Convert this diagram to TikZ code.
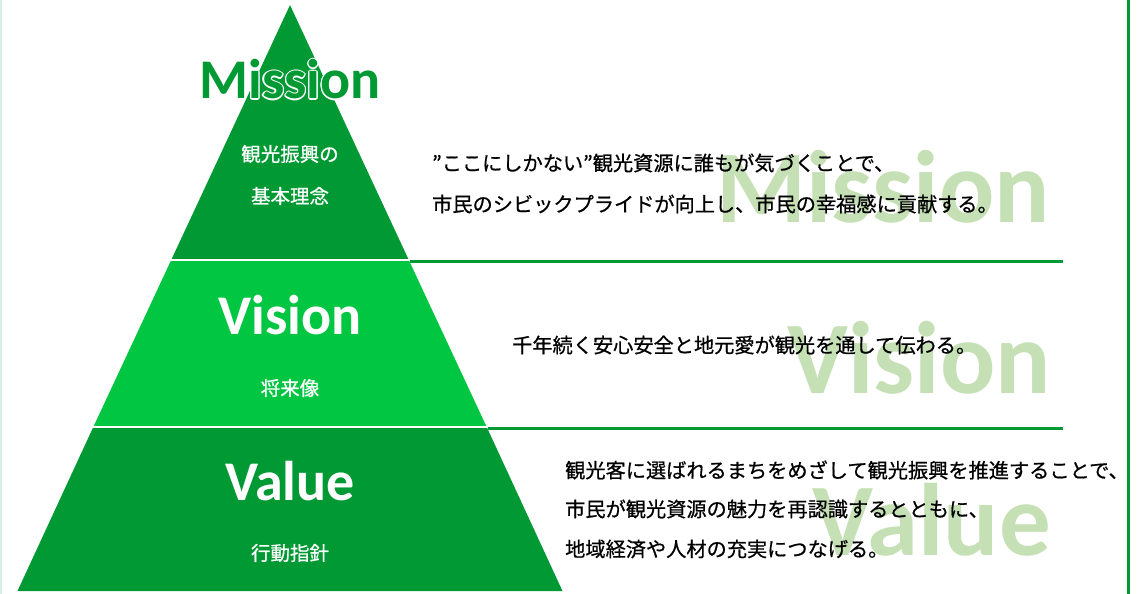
\documentclass[tikz,border=0pt]{standalone}
\usepackage{fontspec}
\setmainfont{Carlito}
\newfontfamily\jpfont{Noto Sans CJK JP}[FakeBold=0.7]
\definecolor{dkgreen}{RGB}{0,153,51}
\definecolor{ltgreen}{RGB}{0,198,66}
\definecolor{wmgreen}{RGB}{197,224,180}
\definecolor{mint}{RGB}{214,240,226}
\tikzset{
  head/.style={inner sep=0, font=\fontsize{56}{56}\selectfont\bfseries, anchor=base},
  wmark/.style={inner sep=0, text=wmgreen, font=\fontsize{103}{103}\selectfont\bfseries, anchor=base east},
  sub/.style={inner sep=0, text=white, font=\jpfont\fontsize{19.5}{19.5}\selectfont},
  body/.style={inner sep=0, text=black, anchor=west, font=\jpfont\fontsize{20.2}{20.2}\selectfont},
  rule/.style={dkgreen, line width=3pt},
  sep/.style={white, line width=1.6pt}
}
\begin{document}
\begin{tikzpicture}[x=1pt,y=-1pt]
\useasboundingbox (0,0) rectangle (1143,594);
% frame lines
\coordinate (LT) at (1,0); \coordinate (LB) at (1,594);
\draw[mint, line width=2pt] (LT) -- (LB);
\coordinate (RT) at (1128,0); \coordinate (RB) at (1128,594);
\draw[rule] (RT) -- (RB);
% pyramid
\coordinate (A) at (290,5);
\coordinate (L1) at (171.2,260); \coordinate (R1) at (408.8,260);
\coordinate (L2) at (93.3,427);  \coordinate (R2) at (486.7,427);
\coordinate (L3) at (17.5,591);  \coordinate (R3) at (562.5,591);
\fill[dkgreen] (A) -- (R1) -- (L1) -- cycle;
\fill[ltgreen] (L1) -- (R1) -- (R2) -- (L2) -- cycle;
\fill[dkgreen] (L2) -- (R2) -- (R3) -- (L3) -- cycle;
\draw[sep] (L1) -- (R1);
\draw[sep] (L2) -- (R2);
% horizontal rules
\coordinate (H1a) at (410,261.5); \coordinate (H1b) at (1063,261.5);
\coordinate (H2a) at (488,428.5); \coordinate (H2b) at (1063,428.5);
\draw[rule] (H1a) -- (H1b);
\draw[rule] (H2a) -- (H2b);
% watermarks
\node[wmark] (wm1) at (1050,222) {Mission};
\node[wmark] (wm2) at (1051,393) {Vision};
\node[wmark] (wm3) at (1051,555) {Value};
% Mission heading with white outline
\foreach \a in {0,30,...,330}{
  \node[head, text=white] at ([shift={(\a:1.1)}]290,99) {Mission};
}
\node[head, text=dkgreen] (h1) at (290,99) {Mission};
\node[head, text=white] (h2) at (290,334) {Vision};
\node[head, text=white] (h3) at (290,500) {Value};
% pyramid subtitles
\node[sub] (s1a) at (290,154) {観光振興の};
\node[sub] (s1b) at (290,196) {基本理念};
\node[sub] (s2) at (290,388) {将来像};
\node[sub] (s3) at (290,553) {行動指針};
% body text
\node[body] (t1a) at (432,163) {”ここにしかない”観光資源に誰もが気づくことで、};
\node[body] (t1b) at (432,204) {市民のシビックプライドが向上し、市民の幸福感に貢献する。};
\node[body] (t2) at (512,345) {千年続く安心安全と地元愛が観光を通して伝わる。};
\node[body] (t3a) at (565,470) {観光客に選ばれるまちをめざして観光振興を推進することで、};
\node[body] (t3b) at (565,509) {市民が観光資源の魅力を再認識するとともに、};
\node[body] (t3c) at (565,549) {地域経済や人材の充実につなげる。};
\end{tikzpicture}
\end{document}
